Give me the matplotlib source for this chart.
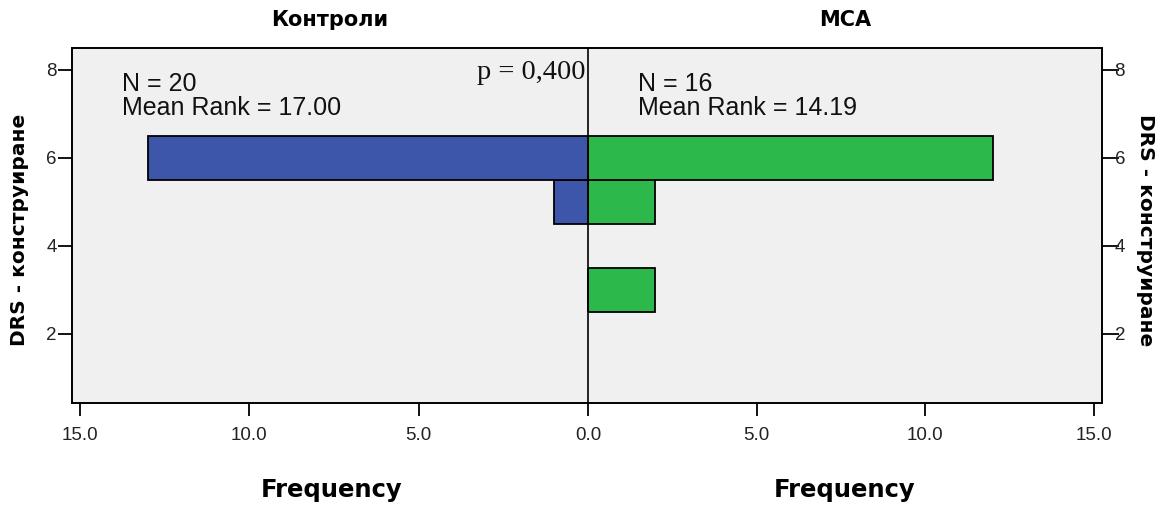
import matplotlib
matplotlib.use("Agg")
import matplotlib.pyplot as plt

# Data
values = [3, 5, 6]
controls_counts = [0, 1, 13]
mca_counts = [2, 2, 12]
group_titles = ["Контроли", "MCA"]
group_stats = ["N = 20\nMean Rank = 17.00", "N = 16\nMean Rank = 14.19"]
p_text = "p = 0,400"
y_label = "DRS - конструиране"
x_label = "Frequency"
x_ticks_left = [5, 10, 15]
x_ticks_right = [0, 5, 10, 15]
y_ticks = [2, 4, 6, 8]

blue = "#3D56AA"
green = "#2DB84B"
bg = "#F0F0F0"
bold_font = ["Liberation Sans Narrow", "DejaVu Sans"]
sans = ["Liberation Sans", "DejaVu Sans"]

W, H = 1162, 509
fig = plt.figure(figsize=(W / 100, H / 100), dpi=100)
fig.patch.set_facecolor("white")

L, C, R = 72 / W, 588 / W, 1102 / W
B, T = 1 - 403 / H, 1 - 48 / H
axR = fig.add_axes([C, B, R - C, T - B])
axL = fig.add_axes([L, B, C - L, T - B])

xmax = 15.24
ymin, ymax = 0.43, 8.5

for ax, counts, color in ((axL, controls_counts, blue), (axR, mca_counts, green)):
    ax.set_facecolor(bg)
    ax.barh(values, counts, height=1.0, color=color, edgecolor="black", linewidth=1.3, zorder=3)
    ax.set_ylim(ymin, ymax)
    ax.set_yticks(y_ticks)
    for s in ax.spines.values():
        s.set_linewidth(1.4)
        s.set_color("black")
    ax.tick_params(axis="both", direction="out", length=10, width=1.3, colors="black",
                   labelsize=13.5)
    ax.tick_params(axis="x", length=9, pad=8)

axL.set_xlim(xmax, 0)
axL.set_xticks(x_ticks_left)
axL.set_xticklabels([f"{v:.1f}" for v in x_ticks_left], family=sans, fontsize=13.5, color="#222222")
axL.set_yticklabels([str(v) for v in y_ticks], family=sans, fontsize=13.5, color="#222222")
axL.tick_params(axis="y", length=10, pad=1)
axL.spines["right"].set_linewidth(1.2)

axR.set_xlim(0, xmax)
axR.set_xticks(x_ticks_right)
axR.set_xticklabels([f"{v:.1f}" for v in x_ticks_right], family=sans, fontsize=13.5, color="#222222")
axR.yaxis.tick_right()
axR.set_yticklabels([str(v) for v in y_ticks], family=sans, fontsize=13.5, color="#222222")
axR.tick_params(axis="y", length=12, pad=-3)
axR.spines["left"].set_visible(False)

# Statistics text
axL.text(0.097, 0.932, group_stats[0], transform=axL.transAxes, ha="left", va="top",
         family=sans, fontsize=18, linespacing=0.98, color="#111111")
axR.text(0.097, 0.932, group_stats[1], transform=axR.transAxes, ha="left", va="top",
         family=sans, fontsize=18, linespacing=0.98, color="#111111")
axL.text(0.995, 0.965, p_text, transform=axL.transAxes, ha="right", va="top",
         family=["Liberation Serif", "DejaVu Serif"], fontsize=20.5, color="#111111")

# Titles
fig.text(330 / W, 1 - 20 / H, group_titles[0], ha="center", va="center",
         family=bold_font, fontweight="bold", fontsize=15)
fig.text(845 / W, 1 - 20 / H, group_titles[1], ha="center", va="center",
         family=bold_font, fontweight="bold", fontsize=15)

# X labels
fig.text(332 / W, 1 - 490 / H, x_label, ha="center", va="center",
         family=bold_font, fontweight="bold", fontsize=17.5)
fig.text(845 / W, 1 - 490 / H, x_label, ha="center", va="center",
         family=bold_font, fontweight="bold", fontsize=17.5)

# Y labels
fig.text(20 / W, 1 - 230 / H, y_label, ha="center", va="center", rotation=90,
         family=bold_font, fontweight="bold", fontsize=14.5)
fig.text(1146 / W, 1 - 230 / H, y_label, ha="center", va="center", rotation=-90,
         family=bold_font, fontweight="bold", fontsize=14.5)

fig.savefig("out.png", dpi=100)
